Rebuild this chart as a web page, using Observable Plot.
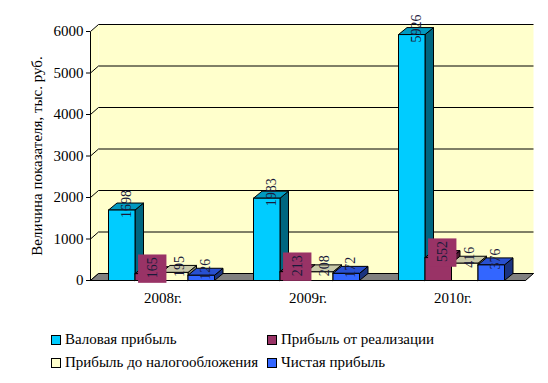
<!DOCTYPE html>
<html>
<head>
<meta charset="utf-8">
<script src="https://cdn.jsdelivr.net/npm/d3@7"></script>
<script src="https://cdn.jsdelivr.net/npm/@observablehq/plot@0.6"></script>
<style>
  html, body { margin: 0; padding: 0; background: #fff; }
  #chart { width: 548px; }
  .legend { font-family: "Liberation Serif", "DejaVu Serif", serif; font-size: 15px; color: #000;
    display: grid; grid-template-columns: 216px auto; padding-left: 51px; padding-top: 8px; }
  .legend .item { display: flex; align-items: center; height: 23px; white-space: nowrap; }
  .legend .sw { width: 8px; height: 8px; border: 1px solid #000; margin-right: 4px; flex: none; }
</style>
</head>
<body>
<div id="chart"></div>
<script>
// ---- data ----
const categories = ["2008г.", "2009г.", "2010г."];
const seriesNames = ["Валовая прибыль", "Прибыль от реализации", "Прибыль до налогообложения", "Чистая прибыль"];
const grossProfit = [1698, 1983, 5926];
const salesProfit = [165, 213, 552];
const pretaxProfit = [195, 208, 416];
const netProfit = [126, 172, 376];
const yTicks = [0, 1000, 2000, 3000, 4000, 5000, 6000];
const yTitle = "Величина показателя, тыс. руб.";

// ---- style ----
const frontColors = ["#00CCFF", "#993366", "#FFFFCC", "#3366FF"];
const sideColors  = ["#006680", "#4D1A33", "#80806A", "#1A3380"];
const topColors   = ["#0099C0", "#732650", "#C8C8A8", "#2850D0"];
const font = '"Liberation Serif", "DejaVu Serif", serif';

const W = 548, H = 320, ML = 90, MR = 23, MT = 31, MB = 40;
const yMax = 6000;
const pxX = 3 / (W - ML - MR);          // data units per pixel (x)
const pxY = yMax / (H - MT - MB);       // data units per pixel (y)
const wallDX = 8 * pxX, wallDY = 7 * pxY;
const barDX = 8.5 * pxX, barDY = 7 * pxY;
const groupOffset = 18 * pxX, barW = 26.5 * pxX;

const values = [grossProfit, salesProfit, pretaxProfit, netProfit];

// bars
const bars = [];
categories.forEach((c, i) => {
  seriesNames.forEach((s, k) => {
    const x0 = i + groupOffset + k * barW;
    bars.push({cat: c, series: k, x0, x1: x0 + barW, v: values[k][i]});
  });
});

// polygons (faces) in drawing order
const faces = [];
bars.forEach((b, n) => {
  const id = "b" + n;
  const side = [[b.x1, 0], [b.x1 + barDX, barDY], [b.x1 + barDX, b.v + barDY], [b.x1, b.v]];
  const top = [[b.x0, b.v], [b.x1, b.v], [b.x1 + barDX, b.v + barDY], [b.x0 + barDX, b.v + barDY]];
  const front = [[b.x0, 0], [b.x1, 0], [b.x1, b.v], [b.x0, b.v]];
  [[side, sideColors], [top, topColors], [front, frontColors]].forEach(([poly, cols], f) => {
    poly.concat([poly[0]]).forEach(([x, y]) => faces.push({z: id + "_" + f, x, y, fill: cols[b.series]}));
  });
});

// walls
const backWall = [[wallDX, wallDY], [3 + wallDX, wallDY], [3 + wallDX, yMax + wallDY], [wallDX, yMax + wallDY], [wallDX, wallDY]].map(([x, y]) => ({x, y}));
const leftWall = [[0, 0], [0, yMax], [wallDX, yMax + wallDY], [wallDX, wallDY], [0, 0]].map(([x, y]) => ({x, y}));
const floor = [[0, 0], [3, 0], [3 + wallDX, wallDY], [wallDX, wallDY], [0, 0]].map(([x, y]) => ({x, y}));

const plot = Plot.plot({
  width: W, height: H,
  marginLeft: ML, marginRight: MR, marginTop: MT, marginBottom: MB,
  style: {fontFamily: font, fontSize: "15px", color: "#000", background: "transparent"},
  x: {type: "linear", domain: [0, 3], axis: null},
  y: {type: "linear", domain: [0, yMax], axis: null},
  marks: [
    // back and left walls
    Plot.line(backWall, {x: "x", y: "y", fill: "#FFFFCC", stroke: "none"}),
    Plot.line(leftWall, {x: "x", y: "y", fill: "#FFFFCC", stroke: "none"}),
    // gridlines on back wall
    Plot.link(yTicks, {x1: () => wallDX, y1: d => d + wallDY, x2: () => 3 + wallDX, y2: d => d + wallDY, stroke: "#000"}),
    Plot.link(yTicks, {x1: () => 0, y1: d => d, x2: () => wallDX, y2: d => d + wallDY, stroke: "#000"}),
    // floor
    Plot.line(floor, {x: "x", y: "y", fill: "#808080", stroke: "#000", strokeWidth: 1}),
    // y axis
    Plot.link([0], {x1: () => 0, x2: () => 0, y1: () => 0, y2: () => yMax, stroke: "#000"}),
    Plot.axisY(yTicks, {tickSize: 4, tickPadding: 3, tickFormat: d => String(d), label: null, fontSize: 15}),
    Plot.text([yTitle], {frameAnchor: "left", textAnchor: "middle", dx: -53, rotate: -90, fontSize: 15, fill: "#000"}),
    // 3D bars
    Plot.line(faces, {x: "x", y: "y", z: "z", fill: "fill", stroke: "#000", strokeWidth: 1, strokeLinejoin: "miter"}),
    // front floor edge
    Plot.link([0], {x1: () => 0, x2: () => 3, y1: () => 0, y2: () => 0, stroke: "#000"}),
    // category labels
    Plot.text(categories, {x: (d, i) => i + 0.5, y: () => 0, dy: 18, fontSize: 15, fill: "#000"}),
    // label boxes for second series
    Plot.dot(bars.filter(b => b.series === 1), {x: b => (b.x0 + b.x1) / 2, y: "v", dx: 4, dy: -5, symbol: "square", r: 16, fill: frontColors[1], stroke: "none"}),
    // value labels
    Plot.text(bars, {x: b => (b.x0 + b.x1) / 2, y: "v", text: b => String(b.v), dx: 4.5, dy: -6, rotate: -90, fontSize: 14, fill: "#1a1a3a"})
  ]
});
document.getElementById("chart").appendChild(plot);

// legend (below the SVG)
const legend = document.createElement("div");
legend.className = "legend";
seriesNames.forEach((s, k) => {
  const item = document.createElement("div");
  item.className = "item";
  const sw = document.createElement("span");
  sw.className = "sw";
  sw.style.background = frontColors[k];
  item.appendChild(sw);
  item.appendChild(document.createTextNode(s));
  legend.appendChild(item);
});
document.getElementById("chart").appendChild(legend);
</script>
</body>
</html>
